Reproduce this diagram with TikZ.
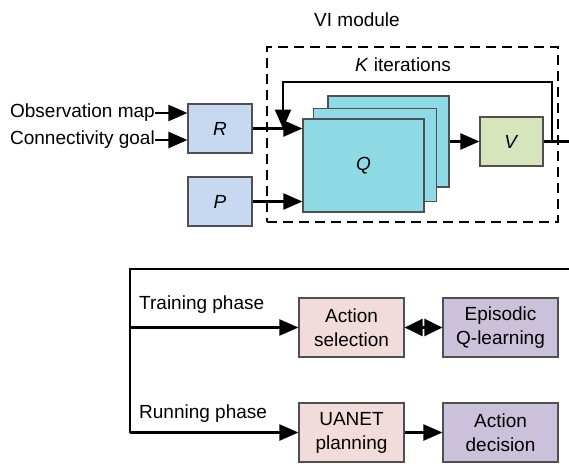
\documentclass[tikz,border=0pt]{standalone}
\usepackage{fontspec}
\setmainfont{Liberation Sans}
\usetikzlibrary{arrows.meta}
\definecolor{rpfill}{HTML}{C6D9F0}
\definecolor{qfill}{HTML}{8FDBE5}
\definecolor{vfill}{HTML}{D8E4BC}
\definecolor{pinkfill}{HTML}{F2DCDB}
\definecolor{lavfill}{HTML}{CCC1DA}
\definecolor{boxline}{HTML}{505050}
\begin{document}
\begin{tikzpicture}[x=1pt,y=-1pt,
  font=\fontsize{19}{24}\selectfont,
  blk/.style={draw=boxline, line width=1.2pt, inner sep=0pt, align=center},
  tip/.style={Triangle[length=19pt,width=16pt]},
  conn/.style={line width=2.4pt, -{Triangle[length=19pt,width=16pt]}},
  wire/.style={line width=2.4pt},
  lbl/.style={inner sep=0pt}
]
\useasboundingbox (0,0) rectangle (569,463);

% VI module frame
\node[draw, line width=2.6pt, dash pattern=on 10pt off 6pt,
      minimum width=291pt, minimum height=175pt] (vibox) at (412.5,134.5) {};
\node[lbl] (vititle) at (357,20) {VI module};
\node[lbl] (kiter) at (403,65) {\textit{K} iterations};

% reward and transition maps
\node[blk, fill=rpfill, minimum width=64pt, minimum height=49pt] (R) at (220,128.5) {\textit{R}};
\node[blk, fill=rpfill, minimum width=64pt, minimum height=49pt] (P) at (220,201.5) {\textit{P}};

% stacked Q layers
\node[blk, fill=qfill, minimum width=121pt, minimum height=91pt] (Q3) at (388.5,141.5) {};
\node[blk, fill=qfill, minimum width=123pt, minimum height=93pt] (Q2) at (375,155) {};
\node[blk, fill=qfill, minimum width=121pt, minimum height=93pt] (Q1) at (363.5,165.5) {\textit{Q}};

\node[blk, fill=vfill, minimum width=63pt, minimum height=49pt] (V) at (511.5,141.5) {\textit{V}};

% inputs
\node[lbl, anchor=east] (obs) at (155,113) {Observation map};
\node[lbl, anchor=east] (goal) at (155,140) {Connectivity goal};
\draw[conn] (obs.east) -- (obs.east -| R.west);
\draw[conn] (goal.east) -- (goal.east -| R.west);

\draw[conn] (R.east) -- (R.east -| Q1.west);
\draw[conn] (P.east) -- (P.east -| Q1.west);
\draw[conn] (Q3.east) -- (V.west);

% value output and iteration loop
\coordinate (vout) at (569,141.5);
\coordinate (fb) at (552,141.5);
\coordinate (fbtop) at (283,82);
\draw[wire] (V.east) -- (vout);
\draw[conn] (fb) |- (fbtop) -- (fbtop |- R.east);

% training / running phases
\node[blk, fill=pinkfill, minimum width=105pt, minimum height=59pt] (asel) at (351.5,327.5) {Action\\selection};
\node[blk, fill=lavfill, minimum width=115pt, minimum height=59pt] (epi) at (500.5,327.5) {Episodic\\Q-learning};
\node[blk, fill=pinkfill, minimum width=105pt, minimum height=59pt] (uanet) at (351.5,432.5) {UANET\\planning};
\node[blk, fill=lavfill, minimum width=115pt, minimum height=59pt] (adec) at (500.5,432.5) {Action\\decision};

\coordinate (feedin) at (569,269);
\coordinate (corner) at (130,269);
\coordinate (trainbr) at (130,327.5);
\coordinate (runbr) at (130,432.5);
\draw[wire] (feedin) -- (corner) -- (runbr);
\draw[conn] (trainbr) -- (asel.west);
\draw[conn] (runbr) -- (uanet.west);
\draw[line width=2.4pt, {Triangle[length=18pt,width=17pt]}-{Triangle[length=18pt,width=17pt]}] (asel.east) -- (epi.west);
\draw[conn] (uanet.east) -- (adec.west);

\node[lbl, anchor=west] (trainlbl) at (139,305) {Training phase};
\node[lbl, anchor=west] (runlbl) at (139,414) {Running phase};
\end{tikzpicture}
\end{document}
